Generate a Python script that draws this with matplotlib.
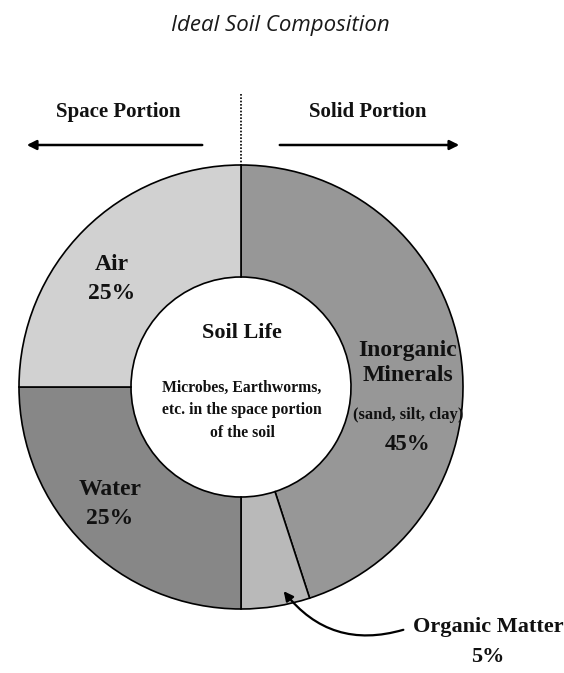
import matplotlib.pyplot as plt
from matplotlib.patches import FancyArrowPatch

# Ideal soil composition (clockwise from top)
parts = ['Inorganic Minerals', 'Organic Matter', 'Water', 'Air']
shares = [45, 5, 25, 25]
colours = ['#979797', '#b9b9b9', '#878787', '#d1d1d1']

W, H = 564, 673
fig = plt.figure(figsize=(W / 100, H / 100), dpi=100)
ax = fig.add_axes([0, 0, 1, 1])

cx, cy, r, r_in = 241, H - 387, 222, 110
ax.pie(shares, colors=colours, startangle=90, counterclock=False,
       center=(cx, cy), radius=r,
       wedgeprops=dict(width=r - r_in, edgecolor='black', linewidth=1.2))
ax.set_xlim(0, W)
ax.set_ylim(0, H)
ax.set_aspect('equal')
ax.axis('off')

bold = dict(family=['Liberation Serif', 'DejaVu Serif'], weight='bold',
            ha='center', va='center', color='#111111')


def px(x, y):
    return x, H - y


ax.text(*px(280, 25), 'Ideal Soil Composition', fontsize=16, style='italic',
        family='Open Sans', ha='center', va='center', color='#1a1a1a')

# header arrows
ax.text(*px(118, 112), 'Space Portion', fontsize=15, **bold)
ax.text(*px(368, 112), 'Solid Portion', fontsize=15, **bold)
ax.annotate('', xy=px(24, 145), xytext=px(205, 145),
            arrowprops=dict(arrowstyle='-|>', color='black', lw=1.8, mutation_scale=14))
ax.annotate('', xy=px(462, 145), xytext=px(277, 145),
            arrowprops=dict(arrowstyle='-|>', color='black', lw=1.8, mutation_scale=14))
ax.plot([cx, cx], [H - 94, H - 165], color='black', lw=1.2, ls=(0, (1, 1)))

# wedge labels
ax.text(*px(112, 279), 'Air\n25%', fontsize=17, linespacing=1.45, **bold)
ax.text(*px(110, 504), 'Water\n25%', fontsize=17, linespacing=1.45, **bold)
ax.text(*px(408, 363), 'Inorganic\nMinerals', fontsize=17, linespacing=1.25, **bold)
ax.text(*px(408, 415), '(sand, silt, clay)', fontsize=12, **bold)
ax.text(*px(408, 444), '45%', fontsize=16.5, **bold)

# centre
ax.text(*px(242, 333), 'Soil Life', fontsize=16, **bold)
ax.text(*px(242, 410), 'Microbes, Earthworms,\netc. in the space portion\nof the soil',
        fontsize=11.3, linespacing=1.55, **bold)

# organic matter callout
ax.text(*px(488, 642), 'Organic Matter\n5%', fontsize=16, linespacing=1.65, **bold)
arr = FancyArrowPatch(px(406, 629), px(282, 589), connectionstyle='arc3,rad=-0.35',
                      arrowstyle='-|>', mutation_scale=14, color='black', lw=1.6)
ax.add_patch(arr)

fig.savefig('out.png', dpi=100)
